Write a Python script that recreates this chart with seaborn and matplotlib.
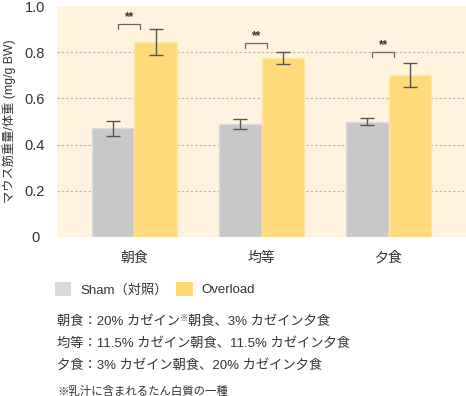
import matplotlib
matplotlib.use('Agg')
import matplotlib.pyplot as plt
import pandas as pd
import seaborn as sns
from matplotlib.patches import Patch

# chart values
meals = ['朝食', '均等', '夕食']
groups = ['Sham（対照）', 'Overload']
sham_mean = [0.47, 0.49, 0.50]
sham_err = [0.033, 0.022, 0.016]
overload_mean = [0.845, 0.775, 0.70]
overload_err = [0.055, 0.027, 0.052]
sig_y = [0.922, 0.84, 0.80]
sig_label = ['**', '**', '**']
y_ticks = [0, 0.2, 0.4, 0.6, 0.8, 1.0]
y_tick_labels = ['0', '0.2', '0.4', '0.6', '0.8', '1.0']
y_label = 'マウス筋重量/体重 (mg/g BW)'
# each note line: (before mark, small mark, after mark)
notes = [
    ('朝食：20% カゼイン', '※', '朝食、3% カゼイン夕食'),
    ('均等：11.5% カゼイン朝食、11.5% カゼイン夕食', '', ''),
    ('夕食：3% カゼイン朝食、20% カゼイン夕食', '', ''),
]
footnote = '※乳汁に含まれるたん白質の一種'

TEXT = '#333333'
BAR_COLORS = ['#C8C8C8', '#FFDA7B']
EDGE_COLORS = ['#DCDCDC', '#FFE6A0']
LEGEND_COLORS = ['#DADADA', '#FFD970']

sns.set_style('white')
plt.rcParams['font.family'] = ['Liberation Sans', 'Noto Sans CJK JP']

df = pd.DataFrame({
    'meal': meals * 2,
    'group': [groups[0]] * 3 + [groups[1]] * 3,
    'value': sham_mean + overload_mean,
})
errs = {groups[0]: sham_err, groups[1]: overload_err}

fig = plt.figure(figsize=(4.66, 3.96), dpi=100)
ax = fig.add_axes([57 / 466, 1 - 237 / 396, 409 / 466, 231 / 396])
ax.set_facecolor('#FFF3E0')

sns.barplot(data=df, x='meal', y='value', hue='group', order=meals,
            hue_order=groups, palette=BAR_COLORS, width=0.67, saturation=1,
            errorbar=None, legend=False, ax=ax, zorder=2)

centers = {}
for i, (cont, g) in enumerate(zip(ax.containers, groups)):
    xs = []
    for bar in cont:
        bar.set_edgecolor(EDGE_COLORS[i])
        bar.set_linewidth(1)
        xs.append(bar.get_x() + bar.get_width() / 2)
    centers[g] = xs
    vals = sham_mean if i == 0 else overload_mean
    ax.errorbar(xs, vals, yerr=errs[g], fmt='none', ecolor='#555555',
                elinewidth=1, capsize=4.7, capthick=1, zorder=3)

# significance brackets
for k in range(len(meals)):
    gc = (centers[groups[0]][k] + centers[groups[1]][k]) / 2
    x0, x1 = gc - 0.128, gc + 0.045
    y = sig_y[k]
    ax.plot([x0, x0, x1, x1], [y - 0.022, y, y, y - 0.022],
            color='#666666', lw=0.9, zorder=3)
    ax.text((x0 + x1) / 2, y + 0.004, sig_label[k], ha='center',
            va='bottom', fontsize=8.5, color=TEXT, fontweight='bold')

ax.set_xlim(-0.61, 2.61)
ax.set_ylim(0, 1.0)
ax.set_yticks(y_ticks)
ax.set_yticklabels(y_tick_labels)
ax.tick_params(axis='y', length=0, pad=15.8, labelsize=10.5, colors=TEXT)
for lab in ax.get_yticklabels():
    lab.set_horizontalalignment('center')
ax.tick_params(axis='x', length=0, pad=10, labelsize=10, colors=TEXT)
ax.set_xlabel('')
ax.set_ylabel(y_label, fontsize=8.8, color=TEXT)
ax.yaxis.set_label_coords(-48 / 409, 0.5)
ax.yaxis.label.set_verticalalignment('center')

ax.yaxis.grid(True, color='#BDB4A6', linestyle=(0, (2, 2)), lw=0.8)
gl = ax.get_ygridlines()
gl[0].set_visible(False)
gl[-1].set_visible(False)
ax.set_axisbelow(True)
sns.despine(ax=ax, left=True, bottom=True)

handles = [Patch(facecolor=c, edgecolor='none') for c in LEGEND_COLORS]
fig.legend(handles, groups, loc='upper left',
           bbox_to_anchor=(55 / 466, 1 - 282 / 396), ncol=2, frameon=False,
           fontsize=9.5, handlelength=1.25, handleheight=1.25,
           handletextpad=0.7, columnspacing=0.6, borderpad=0,
           borderaxespad=0, labelcolor=TEXT)

renderer = fig.canvas.get_renderer()
for i, (a, mark, b) in enumerate(notes):
    yc = 1 - (322 + 22 * i) / 396
    t = fig.text(57 / 466, yc, a, fontsize=9.5, color=TEXT,
                 va='center', ha='left')
    if mark:
        x_end = t.get_window_extent(renderer).x1 / fig.bbox.width
        m = fig.text(x_end, yc + 3 / 396, mark, fontsize=6, color=TEXT,
                     va='center', ha='left')
        x_end = m.get_window_extent(renderer).x1 / fig.bbox.width
        fig.text(x_end, yc, b, fontsize=9.5, color=TEXT,
                 va='center', ha='left')
fig.text(57 / 466, 1 - 391 / 396, footnote, fontsize=8.2, color=TEXT,
         va='center', ha='left')

fig.savefig('out.png', dpi=100)
